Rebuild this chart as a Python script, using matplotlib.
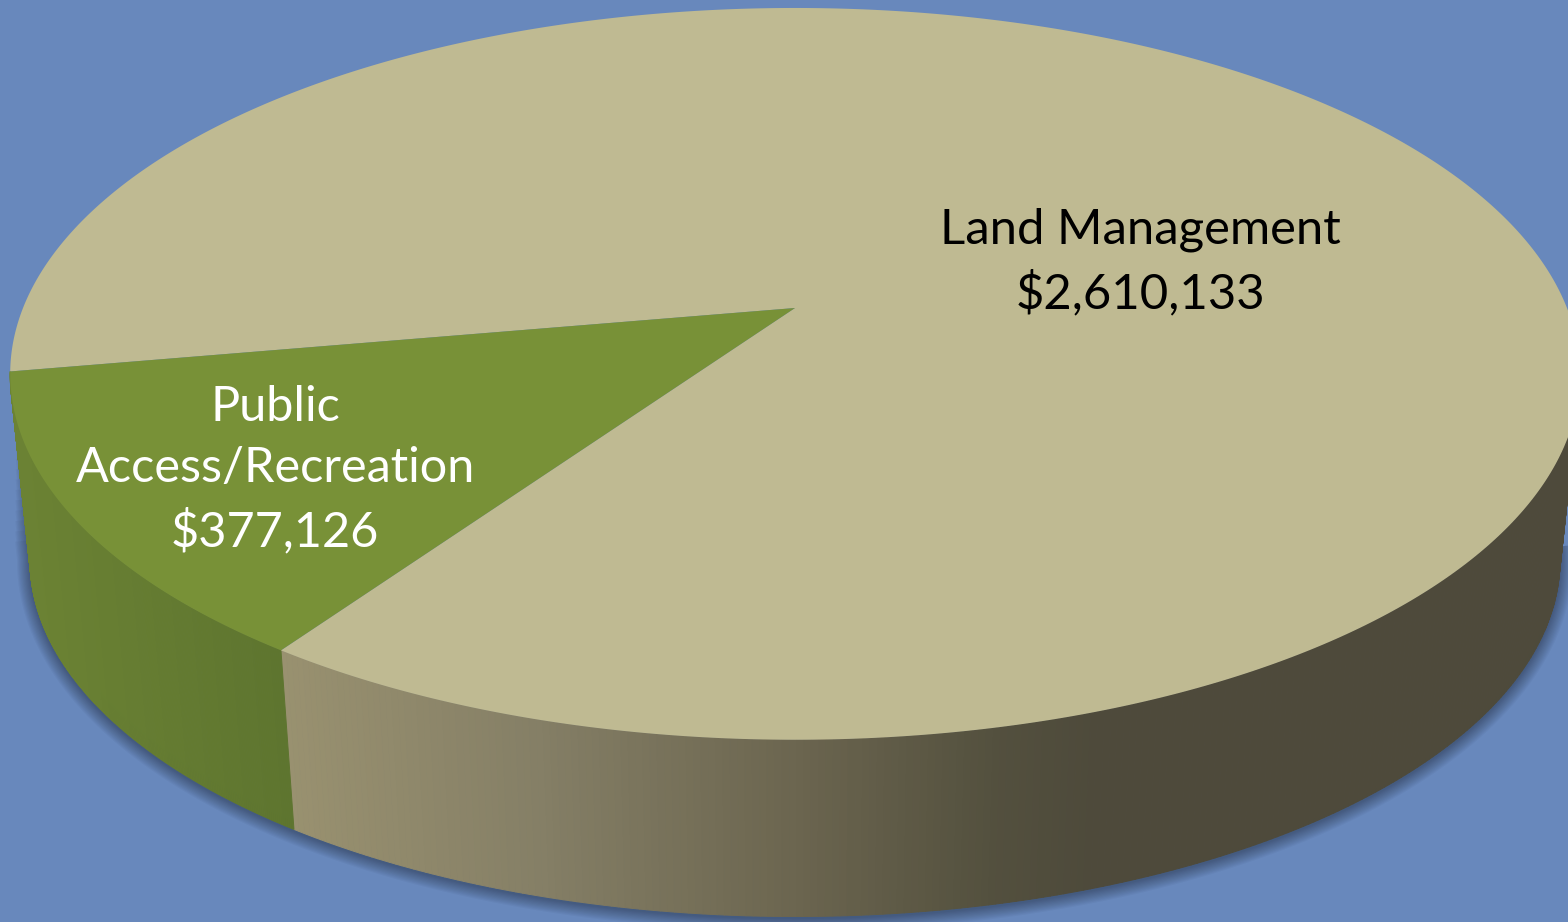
import numpy as np
import matplotlib
matplotlib.use("Agg")
import matplotlib.pyplot as plt
from matplotlib.collections import PolyCollection
from matplotlib.colors import LinearSegmentedColormap

# ---- data ----
categories = ["Public\nAccess/Recreation", "Land Management"]
values = [377126, 2610133]
value_labels = ["$377,126", "$2,610,133"]

# ---- style / geometry ----
W, H = 1568, 922
BG = "#6888bc"
TOP_COLORS = ["#789137", "#bfba92"]
START_DEG = 190.0
APEX = (795.0, 308.0)
D, B, C = 772.0, -298.6, 0.18      # perspective of the pie's top face
VP_Y, SCALE = 7727.0, 0.9747       # vanishing point and scale of the base


def top(theta):
    u, v = np.cos(theta), np.sin(theta)
    w = 1 + C * v
    return APEX[0] + D * u / w, (APEX[1] + B * v) / w


def base(theta):
    x, y = top(theta)
    return APEX[0] + SCALE * (x - APEX[0]), VP_Y + SCALE * (y - VP_Y)


fracs = np.array(values, float) / sum(values)
a0 = np.radians(START_DEG)
a1 = a0 + 2 * np.pi * fracs[0]
a2 = a0 + 2 * np.pi

fig = plt.figure(figsize=(W / 100, H / 100), dpi=100, facecolor=BG)
ax = fig.add_axes([0, 0, 1, 1])
ax.set_xlim(0, W)
ax.set_ylim(H, 0)
ax.axis("off")

# soft shadow hugging the visible base; wider strokes start further down the
# left edge so that the shadow fades in instead of starting abruptly
sh = np.radians(np.linspace(START_DEG, 352, 500))
sx, sy = base(sh)
tx, ty = top(a0)
for k, lw in enumerate(np.arange(2, 24, 2.0)):
    lead = 0.35 + 0.055 * k
    px = np.r_[tx + lead * (sx[0] - tx), sx]
    py = np.r_[ty + lead * (sy[0] - ty), sy]
    ax.plot(px, py + 1.5, color="black", alpha=0.032, lw=lw * 0.85,
            solid_capstyle="butt", solid_joinstyle="round", zorder=1)

# side walls, shaded by horizontal position
beige_cmap = LinearSegmentedColormap.from_list("beige", [
    (0.0, "#9a9270"), (0.32, "#857f66"), (0.64, "#6b654f"),
    (0.88, "#53503e"), (1.0, "#4e4a3b")])
green_cmap = LinearSegmentedColormap.from_list("green", ["#6c8334", "#5e752f"])


def wall(theta0, theta1, cmap, xmin, xmax, z):
    t = np.linspace(theta0, theta1, 260)
    x0, y0 = top(t)
    x1, y1 = base(t)
    quads, cols = [], []
    for i in range(len(t) - 1):
        quads.append([(x0[i], y0[i]), (x0[i + 1], y0[i + 1]),
                      (x1[i + 1], y1[i + 1]), (x1[i], y1[i])])
        mid = 0.5 * (x1[i] + x1[i + 1])
        cols.append(cmap(np.clip((mid - xmin) / (xmax - xmin), 0, 1)))
    ax.add_collection(PolyCollection(quads, facecolors=cols, edgecolors=cols,
                                     linewidths=0.7, zorder=z))


wall(a1, np.radians(352), beige_cmap, 282, 1090, 2)
wall(a0, a1, green_cmap, 22, 295, 3)

# top face
t_big = np.linspace(a1, a2, 600)
t_small = np.linspace(a0, a1, 200)
bx, by = top(t_big)
gx, gy = top(t_small)
ax.fill(np.r_[APEX[0], bx], np.r_[APEX[1], by], color=TOP_COLORS[1], lw=0, zorder=4)
ax.fill(np.r_[APEX[0], gx], np.r_[APEX[1], gy], color=TOP_COLORS[0], lw=0, zorder=5)

# labels
font = ["Lato", "DejaVu Sans"]
ax.text(275, 470, f"{categories[0]}\n{value_labels[0]}", color="white", fontsize=35,
        family=font, ha="center", va="center", linespacing=1.47, zorder=6)
ax.text(1140, 262, f"{categories[1]}\n{value_labels[1]}", color="black", fontsize=35.3,
        family=font, ha="center", va="center", linespacing=1.45, zorder=6)

fig.savefig("out.png", dpi=100, facecolor=BG)
